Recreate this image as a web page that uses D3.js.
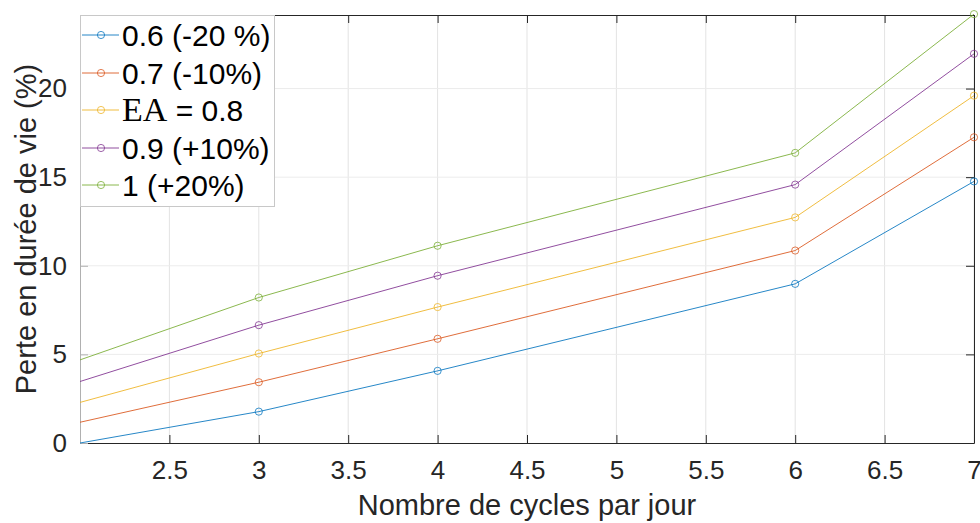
<!DOCTYPE html>
<html><head><meta charset="utf-8">
<script src="https://cdn.jsdelivr.net/npm/d3@7"></script>
<style>body{margin:0;background:#fff}svg{display:block}</style>
</head><body><svg id="c" width="980" height="523"></svg>
<script>
const xValues = [2, 3, 4, 6, 7];
const s06 = [0.0, 1.77, 4.07, 8.98, 14.76];
const s07 = [1.17, 3.43, 5.88, 10.86, 17.25];
const s08 = [2.29, 5.05, 7.67, 12.73, 19.6];
const s09 = [3.47, 6.65, 9.44, 14.58, 21.96];
const s10 = [4.69, 8.21, 11.13, 16.37, 24.2];
const seriesNames = ["0.6 (-20 %)", "0.7 (-10%)", "EA = 0.8", "0.9 (+10%)", "1 (+20%)"];
const seriesColors = ["#0072BD", "#D95319", "#EDB120", "#7E2F8E", "#77AC30"];
const xTicks = [2.5, 3, 3.5, 4, 4.5, 5, 5.5, 6, 6.5, 7];
const yTicks = [0, 5, 10, 15, 20];
const xLabel = "Nombre de cycles par jour";
const yLabel = "Perte en durée de vie (%)";

const allSeries = [s06, s07, s08, s09, s10];
const svg = d3.select("#c");
const L = 80, R = 974, T = 15, B = 443;
const x = d3.scaleLinear().domain([2, 7]).range([L, R]);
const y = d3.scaleLinear().domain([0, 24.15]).range([B, T]);
const txt = "#262626";
const font = "'Liberation Sans', Arial, sans-serif";

// grid
svg.append("g").selectAll("line").data(xTicks).join("line")
  .attr("x1", d => x(d)).attr("x2", d => x(d)).attr("y1", T).attr("y2", B)
  .attr("stroke", "#e3e3e3").attr("stroke-width", 1);
svg.append("g").selectAll("line").data(yTicks.filter(d => d > 0)).join("line")
  .attr("x1", L).attr("x2", R).attr("y1", d => y(d)).attr("y2", d => y(d))
  .attr("stroke", "#ececec").attr("stroke-width", 1);

// axes
const xAxis = d3.axisBottom(x).tickValues(xTicks).tickSizeInner(-8).tickSizeOuter(0).tickPadding(18).tickFormat(d3.format("~g"));
const gx = svg.append("g").attr("transform", `translate(0,${B})`).call(xAxis);
gx.select(".domain").attr("stroke", txt);
gx.selectAll(".tick line").attr("stroke", txt);
gx.selectAll("text").attr("fill", txt).style("font-family", font).style("font-size", "26px");

const xTop = d3.axisTop(x).tickValues(xTicks).tickSizeInner(-8).tickSizeOuter(0).tickFormat("");
const gxt = svg.append("g").attr("transform", `translate(0,${T})`).call(xTop);
gxt.selectAll("path,line").attr("stroke", txt);

const yAxis = d3.axisLeft(y).tickValues(yTicks).tickSizeInner(-8).tickSizeOuter(0).tickPadding(13).tickFormat(d3.format("~g"));
const gy = svg.append("g").attr("transform", `translate(${L},0)`).call(yAxis);
gy.select(".domain").attr("stroke", "#b0b0b0");
gy.selectAll(".tick line").attr("stroke", "#b0b0b0");
gy.selectAll("text").attr("fill", txt).style("font-family", font).style("font-size", "26px");

const yRight = d3.axisRight(y).tickValues(yTicks).tickSizeInner(-8).tickSizeOuter(0).tickFormat("");
const gyr = svg.append("g").attr("transform", `translate(${R},0)`).call(yRight);
gyr.selectAll("path,line").attr("stroke", txt);

// series
const line = d3.line().x((d, i) => x(xValues[i])).y(d => y(d));
allSeries.forEach((s, k) => {
  const g = svg.append("g");
  g.append("path").datum(s).attr("d", line).attr("fill", "none")
    .attr("stroke", seriesColors[k]).attr("stroke-width", 1).attr("stroke-opacity", 0.85);
  g.selectAll("circle").data(s.map((v, i) => [xValues[i], v]).filter(p => p[0] > 2)).join("circle")
    .attr("cx", d => x(d[0])).attr("cy", d => y(d[1])).attr("r", 3.6)
    .attr("fill", "none").attr("stroke", seriesColors[k]).attr("stroke-width", 1).attr("stroke-opacity", 0.75);
});

// axis labels
svg.append("text").attr("x", (L + R) / 2).attr("y", 515).attr("text-anchor", "middle")
  .attr("fill", txt).style("font-family", font).style("font-size", "29px").text(xLabel);
svg.append("text").attr("transform", `translate(36,${(T + B) / 2}) rotate(-90)`).attr("text-anchor", "middle")
  .attr("fill", txt).style("font-family", font).style("font-size", "29px").text(yLabel);

// legend
const lg = svg.append("g");
lg.append("rect").attr("x", L + 0.5).attr("y", T + 0.5).attr("width", 194).attr("height", 191)
  .attr("fill", "#fff").attr("stroke", "#c8c8c8").attr("stroke-width", 1);
const rowY = [35, 73, 110, 148, 185];
seriesNames.forEach((name, k) => {
  const yy = rowY[k];
  lg.append("line").attr("x1", 82).attr("x2", 119).attr("y1", yy).attr("y2", yy)
    .attr("stroke", seriesColors[k]).attr("stroke-width", 1).attr("stroke-opacity", 0.85);
  lg.append("circle").attr("cx", 101).attr("cy", yy).attr("r", 3.6).attr("fill", "none")
    .attr("stroke", seriesColors[k]).attr("stroke-width", 1).attr("stroke-opacity", 0.75);
  const t = lg.append("text").attr("x", 122).attr("y", yy + 11).attr("fill", "#000")
    .style("font-family", font).style("font-size", "30px");
  if (name.startsWith("EA")) {
    t.append("tspan").style("font-family", "'Liberation Serif', 'Times New Roman', serif").style("font-size", "34px").text("EA");
    t.append("tspan").text(name.slice(2));
  } else {
    t.text(name);
  }
});
</script></body></html>
